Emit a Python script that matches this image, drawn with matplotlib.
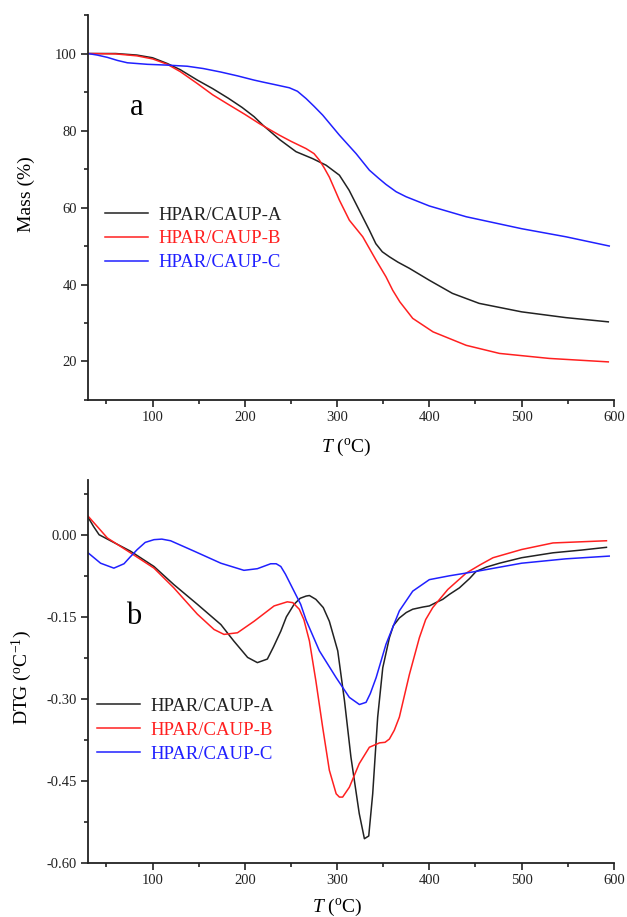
import matplotlib
matplotlib.use("Agg")
import matplotlib.pyplot as plt
from matplotlib.ticker import MultipleLocator

plt.rcParams["font.family"] = ["Liberation Serif", "DejaVu Serif"]
plt.rcParams["mathtext.fontset"] = "custom"
plt.rcParams["mathtext.rm"] = "Liberation Serif"
plt.rcParams["mathtext.it"] = "Liberation Serif:italic"

labels = ["HPAR/CAUP-A", "HPAR/CAUP-B", "HPAR/CAUP-C"]
colors = ["#222222", "#ff2020", "#2020ff"]

# ---- TG curves: temperature (°C) vs mass (%) ----
tg_a_T = [30, 60, 83, 100, 116, 130, 148.5, 165, 182, 197, 210, 220, 238, 255.5, 273.5, 288, 302.5, 313, 324, 335, 342, 349, 356.7, 366, 378.4, 400, 425, 454, 500, 548, 594]
tg_a_m = [100, 100, 99.6, 98.9, 97.4, 95.8, 93.1, 90.9, 88.4, 86.0, 83.6, 81.3, 77.6, 74.5, 72.7, 71.0, 68.4, 64.5, 59.3, 54.1, 50.6, 48.5, 47.2, 45.8, 44.2, 41.1, 37.7, 35.1, 32.9, 31.4, 30.3]

tg_b_T = [30, 60, 83, 100, 116, 130, 148.5, 165, 182, 200, 215.7, 237.4, 250, 266.4, 275, 280.8, 286, 291.6, 302.5, 313.3, 327.8, 342.3, 353, 360.3, 368, 382, 404, 440, 476, 530, 594]
tg_b_m = [100, 99.9, 99.4, 98.6, 97.2, 95.3, 92.2, 89.3, 86.8, 84.2, 81.8, 78.8, 77.2, 75.3, 74.0, 72.3, 70.3, 67.9, 61.9, 56.7, 52.4, 46.3, 42.0, 38.5, 35.5, 31.2, 27.7, 24.2, 22.1, 20.8, 19.9]

tg_c_T = [30, 40, 51, 62, 72.6, 94.3, 115, 137.6, 155, 173.8, 192, 210, 219.3, 233, 248.3, 257, 266.4, 275, 284.4, 302.5, 320.6, 335, 345, 353, 364, 374.8, 400, 440, 500, 548, 595]
tg_c_m = [100, 99.6, 99.0, 98.2, 97.6, 97.2, 97.0, 96.7, 96.1, 95.2, 94.2, 93.1, 92.6, 91.9, 91.1, 90.2, 88.3, 86.3, 84.0, 78.8, 74.0, 69.7, 67.6, 66.0, 64.1, 62.8, 60.4, 57.6, 54.5, 52.4, 50.0]

# ---- DTG curves: temperature (°C) vs rate (°C^-1) ----
dtg_a_T = [30, 36, 42, 54.4, 76, 101.5, 123, 148.5, 174, 188, 203, 213.6, 224.4, 231, 239, 245, 253.4, 260, 266.4, 270, 277, 285, 291.6, 300.7, 308, 315, 324, 329.6, 334.3, 338.6, 344, 349.5, 356.7, 361, 367.5, 375, 382, 393, 400, 407, 414.5, 421.7, 432.6, 443.6, 450.7, 462, 476, 500, 534, 565, 592]
dtg_a_v = [0.032, 0.015, 0.000, -0.011, -0.030, -0.058, -0.091, -0.127, -0.164, -0.194, -0.224, -0.2335, -0.227, -0.205, -0.176, -0.150, -0.127, -0.116, -0.112, -0.111, -0.118, -0.133, -0.158, -0.212, -0.303, -0.406, -0.509, -0.555, -0.550, -0.473, -0.333, -0.243, -0.188, -0.166, -0.152, -0.142, -0.136, -0.132, -0.130, -0.124, -0.118, -0.109, -0.097, -0.080, -0.067, -0.059, -0.052, -0.042, -0.033, -0.028, -0.023]

dtg_b_T = [30, 40, 51, 76, 101.5, 123, 148.5, 166.6, 177.4, 192, 210, 231.7, 246, 252, 259, 264, 270, 277, 284.4, 291.6, 299, 302.5, 306, 313.3, 324, 335, 346, 352, 356.7, 362, 367.5, 378.4, 389.2, 396, 403.7, 420, 440, 455, 469, 500, 534, 592]
dtg_b_v = [0.034, 0.015, -0.006, -0.033, -0.061, -0.097, -0.145, -0.173, -0.182, -0.179, -0.158, -0.130, -0.1225, -0.124, -0.136, -0.155, -0.194, -0.267, -0.352, -0.430, -0.473, -0.479, -0.479, -0.461, -0.418, -0.388, -0.380, -0.379, -0.373, -0.357, -0.333, -0.255, -0.188, -0.155, -0.133, -0.100, -0.070, -0.055, -0.042, -0.027, -0.015, -0.011]

dtg_c_T = [30, 43.6, 58, 69, 76, 83.4, 92, 101.5, 110, 119.5, 145, 174, 199, 213.6, 228, 234, 239, 244, 249.7, 260.5, 266.4, 280.8, 299, 313.3, 324.2, 331.4, 336, 342.3, 353, 367.5, 382, 400, 421.7, 450.7, 500, 548, 595]
dtg_c_v = [-0.033, -0.052, -0.061, -0.053, -0.040, -0.027, -0.014, -0.009, -0.008, -0.011, -0.030, -0.052, -0.065, -0.062, -0.053, -0.053, -0.058, -0.072, -0.091, -0.127, -0.156, -0.212, -0.261, -0.297, -0.310, -0.306, -0.290, -0.261, -0.200, -0.139, -0.103, -0.082, -0.075, -0.067, -0.052, -0.044, -0.039]

fig = plt.figure(figsize=(6.27, 9.17), dpi=100)
ax1 = fig.add_axes([0.1404, 0.5638, 0.8386, 0.4198])
ax2 = fig.add_axes([0.1404, 0.0585, 0.8386, 0.4181])

for T, m, lab, c in zip([tg_a_T, tg_b_T, tg_c_T], [tg_a_m, tg_b_m, tg_c_m], labels, colors):
    ax1.plot(T, m, color=c, lw=1.1, label=lab)
for T, v, lab, c in zip([dtg_a_T, dtg_b_T, dtg_c_T], [dtg_a_v, dtg_b_v, dtg_c_v], labels, colors):
    ax2.plot(T, v, color=c, lw=1.1, label=lab)

ax1.set_xlim(30, 600)
ax1.set_ylim(10, 110)
ax1.xaxis.set_major_locator(MultipleLocator(100))
ax1.xaxis.set_minor_locator(MultipleLocator(50))
ax1.yaxis.set_major_locator(MultipleLocator(20))
ax1.yaxis.set_minor_locator(MultipleLocator(10))

ax2.set_xlim(30, 600)
ax2.set_ylim(-0.60, 0.10)
ax2.xaxis.set_major_locator(MultipleLocator(100))
ax2.xaxis.set_minor_locator(MultipleLocator(50))
ax2.yaxis.set_major_locator(MultipleLocator(0.15))
ax2.yaxis.set_minor_locator(MultipleLocator(0.075))
ax2.yaxis.set_major_formatter(plt.FuncFormatter(lambda v, p: f"{v:.2f}"))

for ax in (ax1, ax2):
    ax.spines["top"].set_visible(False)
    ax.spines["right"].set_visible(False)
    for s in ("left", "bottom"):
        ax.spines[s].set_linewidth(1.3)
        ax.spines[s].set_color("#222222")
    ax.tick_params(which="major", direction="out", length=5, width=1.2, labelsize=10.5, colors="#222222", pad=3)
    ax.tick_params(which="minor", direction="out", length=3, width=1.2, colors="#222222")
    ax.set_xlabel(r"$\mathit{T}$ ($^{\mathrm{o}}$C)", fontsize=14)

ax1.xaxis.set_label_coords(0.491, -0.096)
ax2.xaxis.set_label_coords(0.474, -0.088)

ax1.set_ylabel("Mass (%)", fontsize=14)
ax2.set_ylabel(r"DTG ($^{\mathrm{o}}$C$^{\mathrm{-1}}$)", fontsize=14)
ax1.yaxis.set_label_coords(-0.101, 0.536)
ax2.yaxis.set_label_coords(-0.102, 0.484)

ax1.text(83, 86, "a", fontsize=22, ha="center", va="center")
ax2.text(80, -0.15, "b", fontsize=22, ha="center", va="center")

leg_kw = dict(frameon=False, fontsize=13.5, handlelength=2.3, handletextpad=0.53,
              labelspacing=0.36, labelcolor="linecolor")
ax1.legend(loc="upper left", bbox_to_anchor=(0.0005, 0.5466), **leg_kw)
ax2.legend(loc="upper left", bbox_to_anchor=(-0.0145, 0.4756), **leg_kw)

fig.savefig("out.png", dpi=100)
